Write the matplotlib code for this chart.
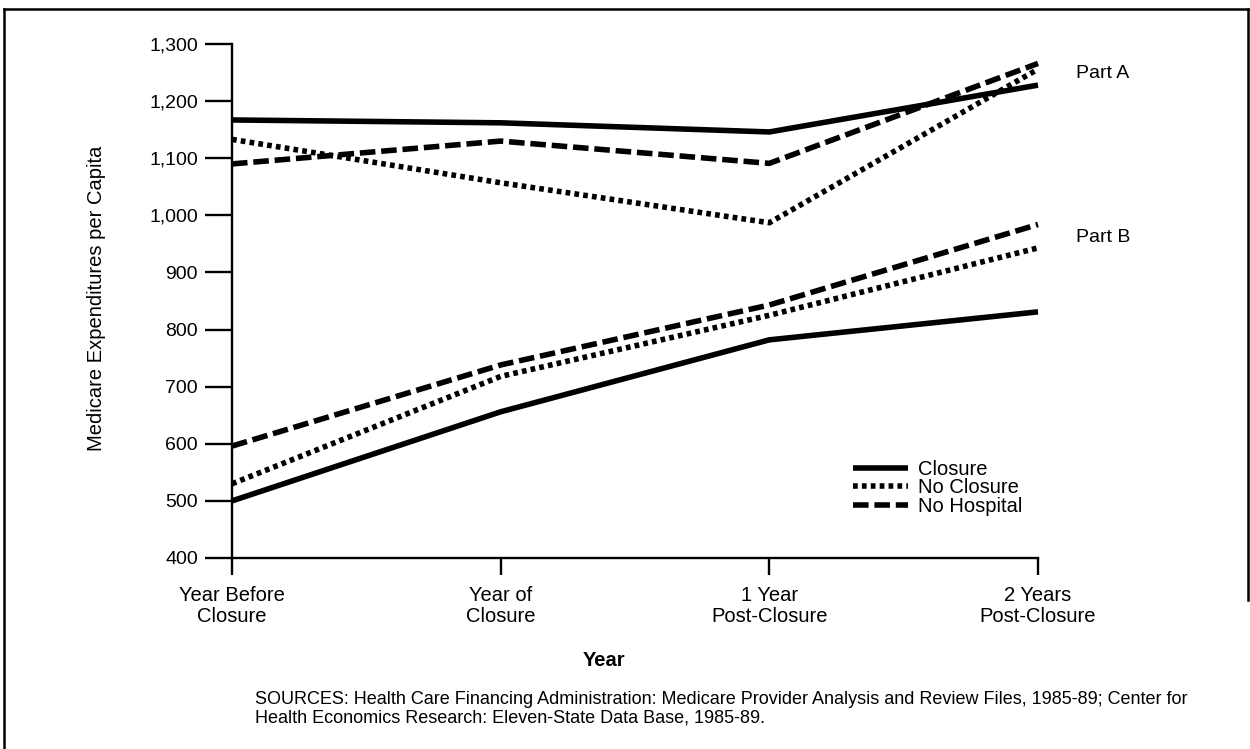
import matplotlib
matplotlib.use("Agg")
import matplotlib.pyplot as plt
from matplotlib.lines import Line2D

plt.rcParams['font.family'] = ['Liberation Sans', 'DejaVu Sans']

categories = ["Year Before\nClosure", "Year of\nClosure", "1 Year\nPost-Closure", "2 Years\nPost-Closure"]
series_names = ["Closure", "No Closure", "No Hospital"]

part_a_closure = [1167, 1162, 1146, 1228]
part_a_no_closure = [1133, 1057, 987, 1256]
part_a_no_hospital = [1090, 1130, 1091, 1266]

part_b_closure = [500, 656, 782, 831]
part_b_no_closure = [530, 718, 825, 943]
part_b_no_hospital = [596, 738, 843, 984]

y_ticks = [400, 500, 600, 700, 800, 900, 1000, 1100, 1200, 1300]
y_tick_labels = ["400", "500", "600", "700", "800", "900", "1,000", "1,100", "1,200", "1,300"]

W, H = 1250, 749
fig = plt.figure(figsize=(W / 100, H / 100), dpi=100)
ax = fig.add_axes([232 / W, 1 - 558 / H, (1038 - 232) / W, (558 - 44) / H])

lw = 4.0
styles = {
    "Closure": dict(linestyle='-', solid_capstyle='butt'),
    "No Closure": dict(linestyle=(0, (0.85, 0.75)), dash_capstyle='butt'),
    "No Hospital": dict(linestyle=(0, (2.8, 1.05)), dash_capstyle='butt'),
}

x = list(range(len(categories)))
for name, a, b in zip(series_names,
                      [part_a_closure, part_a_no_closure, part_a_no_hospital],
                      [part_b_closure, part_b_no_closure, part_b_no_hospital]):
    ax.plot(x, a, color='black', lw=lw, clip_on=False, **styles[name])
    ax.plot(x, b, color='black', lw=lw, clip_on=False, **styles[name])

ax.set_xlim(0, 3)
ax.set_ylim(400, 1300)
ax.set_yticks(y_ticks)
ax.set_yticklabels(y_tick_labels)
ax.set_xticks(x)
ax.set_xticklabels(categories, linespacing=1.15)

for s in ['top', 'right']:
    ax.spines[s].set_visible(False)
for s in ['left', 'bottom']:
    ax.spines[s].set_linewidth(1.7)
ax.tick_params(axis='y', direction='out', length=19.5, width=1.7, pad=5, labelsize=14)
ax.tick_params(axis='x', direction='out', length=12, width=1.7, pad=8, labelsize=14.5)

ax.text(3.14, 1249, "Part A", fontsize=14, va='center', ha='left', clip_on=False)
ax.text(3.14, 962, "Part B", fontsize=14, va='center', ha='left', clip_on=False)

handles = [Line2D([0], [0], color='black', lw=lw, **styles[n]) for n in series_names]
ax.legend(handles, series_names, loc='upper left', bbox_to_anchor=(0.7705, 0.191),
          frameon=False, fontsize=14.5, handlelength=2.75, handletextpad=0.5,
          labelspacing=-0.02, borderpad=0, borderaxespad=0)

fig.text(97 / W, 1 - 298 / H, "Medicare Expenditures per Capita", rotation=90,
         ha='center', va='center', fontsize=14.5)
fig.text(604 / W, 1 - 660 / H, "Year", ha='center', va='center', fontsize=14.5,
         fontweight='bold')
fig.text(255 / W, 1 - 709 / H,
         "SOURCES: Health Care Financing Administration: Medicare Provider Analysis and Review Files, 1985-89; Center for\n"
         "Health Economics Research: Eleven-State Data Base, 1985-89.",
         ha='left', va='center', fontsize=13, linespacing=1.1)

# page frame
fig.add_artist(Line2D([4 / W, 1248 / W], [1 - 9 / H, 1 - 9 / H], color='black', lw=1.8))
fig.add_artist(Line2D([4 / W, 4 / W], [0, 1 - 9 / H], color='black', lw=1.8))
fig.add_artist(Line2D([1248 / W, 1248 / W], [1 - 600 / H, 1 - 9 / H], color='black', lw=1.8))

fig.savefig("out.png", dpi=100)
